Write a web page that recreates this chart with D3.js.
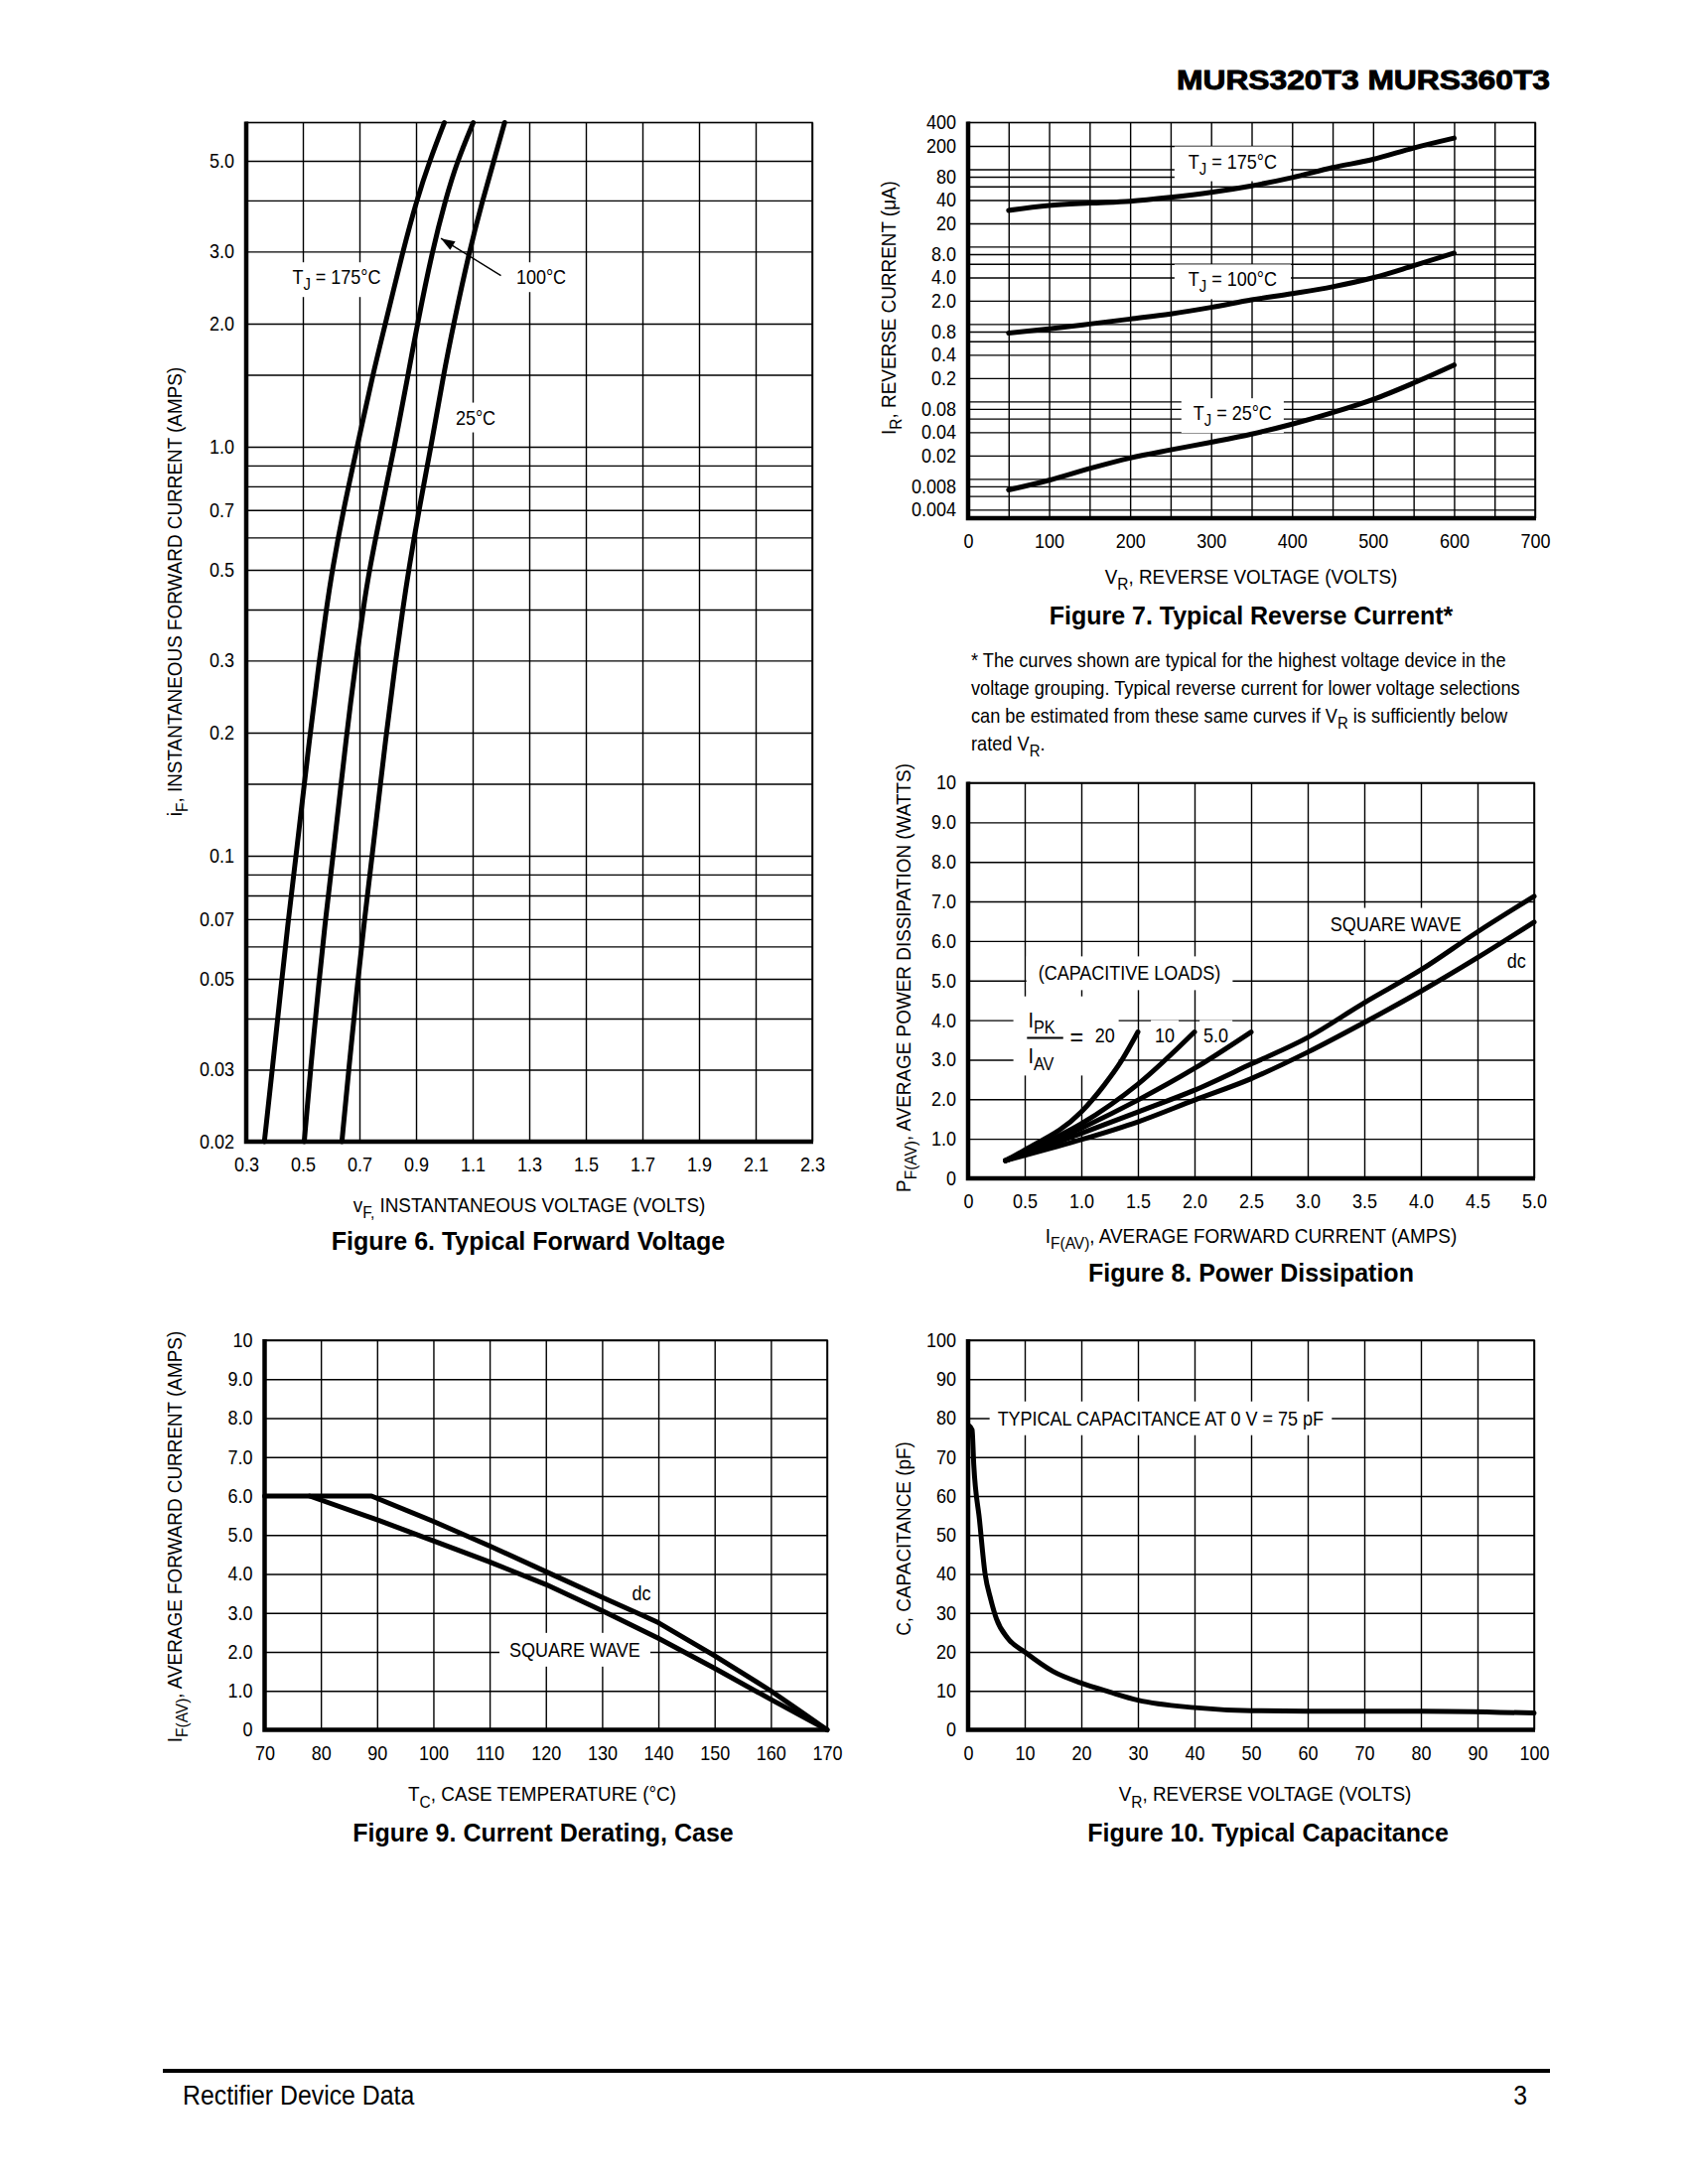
<!DOCTYPE html>
<html>
<head>
<meta charset="utf-8">
<script src="https://cdn.jsdelivr.net/npm/d3@7"></script>
<style>
  body { margin: 0; background: #fff; }
  svg text { font-family: "Liberation Sans", Arial, sans-serif; fill: #000; }
  svg text.bold { font-weight: bold; }
  .ticks text { font-size: 20px; }
</style>
</head>
<body>
<svg id="page" width="1700" height="2200"></svg>
<script>
// ---- Figure 6: typical forward voltage (current on log axis, voltage per temperature)
const fig6Current = [0.02, 0.03, 0.05, 0.07, 0.1, 0.2, 0.3, 0.4, 0.5, 0.7, 1.0, 1.5, 2.0, 3.0, 4.0, 5.0, 6.2];
const fig6V175 = [0.364, 0.392, 0.426, 0.449, 0.476, 0.526, 0.558, 0.583, 0.604, 0.643, 0.692, 0.747, 0.792, 0.853, 0.902, 0.948, 1.0];
const fig6V100 = [0.505, 0.527, 0.558, 0.58, 0.607, 0.655, 0.688, 0.713, 0.735, 0.777, 0.824, 0.872, 0.905, 0.957, 1.003, 1.046, 1.102];
const fig6V25 = [0.638, 0.662, 0.695, 0.718, 0.745, 0.795, 0.828, 0.853, 0.874, 0.91, 0.953, 0.997, 1.033, 1.088, 1.135, 1.175, 1.213];
const fig6XTicks = [0.3, 0.5, 0.7, 0.9, 1.1, 1.3, 1.5, 1.7, 1.9, 2.1, 2.3];
const fig6XLabels = ["0.3", "0.5", "0.7", "0.9", "1.1", "1.3", "1.5", "1.7", "1.9", "2.1", "2.3"];
const fig6YTicks = [5, 3, 2, 1, 0.7, 0.5, 0.3, 0.2, 0.1, 0.07, 0.05, 0.03, 0.02];
const fig6YLabels = ["5.0", "3.0", "2.0", "1.0", "0.7", "0.5", "0.3", "0.2", "0.1", "0.07", "0.05", "0.03", "0.02"];
const fig6YGrid = [5, 4, 3, 2, 1.5, 1, 0.9, 0.8, 0.7, 0.6, 0.5, 0.4, 0.3, 0.2, 0.15, 0.1, 0.09, 0.08, 0.07, 0.06, 0.05, 0.04, 0.03];

// ---- Figure 7: typical reverse current
const fig7Voltage = [50, 100, 150, 200, 250, 300, 350, 400, 450, 500, 550, 600];
const fig7I175 = [29.4, 34, 36.5, 38.6, 43.4, 50.3, 61, 78, 105, 134, 188, 252];
const fig7I100 = [0.764, 0.867, 1.0, 1.16, 1.35, 1.64, 2.05, 2.47, 3.03, 3.96, 5.67, 8.24];
const fig7I25 = [0.0072, 0.0096, 0.0136, 0.0186, 0.0237, 0.0297, 0.0379, 0.0509, 0.0717, 0.106, 0.173, 0.296];
const fig7XTicks = [0, 100, 200, 300, 400, 500, 600, 700];
const fig7YTicks = [400, 200, 80, 40, 20, 8, 4, 2, 0.8, 0.4, 0.2, 0.08, 0.04, 0.02, 0.008, 0.004];
const fig7YLabels = ["400", "200", "80", "40", "20", "8.0", "4.0", "2.0", "0.8", "0.4", "0.2", "0.08", "0.04", "0.02", "0.008", "0.004"];
const fig7YGrid = [200, 100, 80, 60, 40, 20, 10, 8, 6, 4, 2, 1, 0.8, 0.6, 0.4, 0.2, 0.1, 0.08, 0.06, 0.04, 0.02, 0.01, 0.008, 0.006, 0.004];

// ---- Figure 8: power dissipation
const fig8Current = [0.33, 0.5, 1.0, 1.5, 2.0, 2.5, 3.0, 3.5, 4.0, 4.5, 5.0];
const fig8Square = [0.45, 0.61, 1.14, 1.68, 2.23, 2.89, 3.56, 4.44, 5.27, 6.23, 7.13];
const fig8Dc = [0.45, 0.58, 0.98, 1.43, 1.98, 2.52, 3.19, 3.94, 4.73, 5.58, 6.48];
const fig8Cap5Current = [0.33, 0.5, 1.0, 1.5, 2.0, 2.5];
const fig8Cap5 = [0.45, 0.64, 1.27, 1.98, 2.78, 3.7];
const fig8Cap10Current = [0.33, 0.5, 1.0, 1.5, 2.0];
const fig8Cap10 = [0.45, 0.67, 1.38, 2.38, 3.7];
const fig8Cap20Current = [0.33, 0.5, 1.0, 1.2, 1.35, 1.5];
const fig8Cap20 = [0.45, 0.72, 1.68, 2.35, 2.95, 3.7];
const fig8XTicks = [0, 0.5, 1, 1.5, 2, 2.5, 3, 3.5, 4, 4.5, 5];
const fig8XLabels = ["0", "0.5", "1.0", "1.5", "2.0", "2.5", "3.0", "3.5", "4.0", "4.5", "5.0"];
const tenTicks = [0, 1, 2, 3, 4, 5, 6, 7, 8, 9, 10];
const tenLabels = ["0", "1.0", "2.0", "3.0", "4.0", "5.0", "6.0", "7.0", "8.0", "9.0", "10"];

// ---- Figure 9: current derating, case
const fig9DcTemp = [70, 89, 100, 110, 120, 130, 137, 140, 150, 160, 165, 170];
const fig9DcCurrent = [6.0, 6.0, 5.35, 4.72, 4.06, 3.4, 2.95, 2.75, 1.9, 1.0, 0.5, 0];
const fig9SqTemp = [78, 90, 100, 110, 120, 130, 140, 150, 160, 170];
const fig9SqCurrent = [6.0, 5.39, 4.85, 4.31, 3.73, 3.06, 2.35, 1.58, 0.78, 0];
const fig9XTicks = [70, 80, 90, 100, 110, 120, 130, 140, 150, 160, 170];

// ---- Figure 10: typical capacitance
const fig10Voltage = [0.2, 0.7, 1, 2, 3, 4, 5, 7, 10, 15, 20, 25, 30, 40, 50, 60, 80, 100];
const fig10Cap = [78, 77, 68, 54, 40, 33.5, 28.5, 23.5, 20, 15, 12, 9.7, 7.6, 5.7, 4.9, 4.8, 4.8, 4.3];
const fig10Ticks = [0, 10, 20, 30, 40, 50, 60, 70, 80, 90, 100];

const svg = d3.select("#page");
const NARROW = 0.9; // the datasheet uses a condensed sans

// horizontal squeeze around the text anchor
function squeeze(t, s) {
  const tr = t.attr("transform");
  if (tr) t.attr("transform", tr + ` scale(${s},1)`);
  else {
    const x0 = +t.attr("x") || 0;
    t.attr("transform", `translate(${x0 * (1 - s)},0) scale(${s},1)`);
  }
}

// text with optional subscript pieces
function rich(sel, segs, size) {
  let down = false;
  segs.forEach(s => {
    const t = sel.append("tspan").text(s.t);
    if (s.sub) {
      t.attr("font-size", size * 0.82);
      if (!down) { t.attr("dy", size * 0.3); down = true; }
    } else if (down) {
      t.attr("dy", -size * 0.3); down = false;
    }
  });
}

function tag(g, px, py, segs, size, pad) {
  const t = g.append("text").attr("x", px).attr("y", py + size * 0.36).attr("font-size", size);
  rich(t, segs, size);
  if (pad) {
    const b = t.node().getBBox();
    g.insert("rect", () => t.node())
      .attr("x", px + NARROW * (b.x - px) - pad[0]).attr("y", b.y - pad[1])
      .attr("width", NARROW * b.width + 2 * pad[0]).attr("height", b.height + 2 * pad[1])
      .attr("fill", "#fff");
  }
  squeeze(t, NARROW);
  return t;
}

function curve(g, x, y, xs, ys, c) {
  g.append("path")
    .datum(xs.map((v, i) => [v, ys[i]]))
    .attr("d", d3.line().x(d => x(d[0])).y(d => y(d[1])).curve(c || d3.curveMonotoneX))
    .attr("fill", "none").attr("stroke", "#000").attr("stroke-width", 5)
    .attr("stroke-linejoin", "round").attr("stroke-linecap", "round");
}

function drawPanel(p, extras) {
  const g = svg.append("g");
  const x = p.x.range([p.left, p.right]);
  const y = p.y.range([p.bottom, p.top]);
  const w = p.right - p.left, h = p.bottom - p.top;

  g.append("g").attr("class", "grid").attr("transform", `translate(0,${p.bottom})`)
    .call(d3.axisBottom(x).tickValues(p.xGrid).tickSize(-h).tickFormat(""));
  g.append("g").attr("class", "grid").attr("transform", `translate(${p.left},0)`)
    .call(d3.axisLeft(y).tickValues(p.yGrid).tickSize(-w).tickFormat(""));
  g.selectAll(".grid .domain").remove();
  g.selectAll(".grid line").attr("stroke", "#000").attr("stroke-width", 1.4);

  g.append("g").attr("class", "ticks").attr("transform", `translate(0,${p.bottom})`)
    .call(d3.axisBottom(x).tickValues(p.xTicks).tickFormat((d, i) => p.xLabels[i]).tickSize(0).tickPadding(16));
  g.append("g").attr("class", "ticks").attr("transform", `translate(${p.left},0)`)
    .call(d3.axisLeft(y).tickValues(p.yTicks).tickFormat((d, i) => p.yLabels[i]).tickSize(0).tickPadding(12));
  g.selectAll(".ticks .domain").remove();
  g.selectAll(".ticks").attr("font-size", null).attr("font-family", null);
  g.selectAll(".ticks text").each(function () { squeeze(d3.select(this), NARROW); });

  // axis titles
  const xt = g.append("text").attr("x", p.xTitleX).attr("y", p.bottom + p.xTitleDy)
    .attr("text-anchor", "middle").attr("font-size", 21);
  rich(xt, p.xTitle, 21);
  squeeze(xt, NARROW);
  const yt = g.append("text").attr("transform", `translate(${p.yTitleX},${p.yTitleY}) rotate(-90)`)
    .attr("dy", "0.36em").attr("text-anchor", "middle").attr("font-size", 21);
  rich(yt, p.yTitle, 21);
  squeeze(yt, NARROW);
  g.append("text").attr("class", "bold").attr("x", p.captionX).attr("y", p.bottom + p.captionDy)
    .attr("text-anchor", "middle").attr("font-size", 25).text(p.caption);

  if (extras) extras(g, x, y);

  g.append("rect").attr("x", p.left).attr("y", p.top).attr("width", w).attr("height", h)
    .attr("fill", "none").attr("stroke", "#000").attr("stroke-width", 1.6);
  g.append("path").attr("d", `M${p.left},${p.top - 1}V${p.bottom}H${p.right + 1}`)
    .attr("fill", "none").attr("stroke", "#000").attr("stroke-width", 4.5);
}

// header
svg.append("text").attr("class", "bold").attr("x", 1561).attr("y", 90).attr("text-anchor", "end")
  .attr("font-size", 27).attr("stroke", "#000").attr("stroke-width", 0.9)
  .attr("textLength", 376).attr("lengthAdjust", "spacingAndGlyphs")
  .text("MURS320T3 MURS360T3");

// ---------------- Figure 6
drawPanel({
  left: 248, right: 818, top: 123.5, bottom: 1150,
  x: d3.scaleLinear().domain([0.3, 2.3]), y: d3.scaleLog().domain([0.02, 6.2]),
  xGrid: fig6XTicks, yGrid: fig6YGrid,
  xTicks: fig6XTicks, xLabels: fig6XLabels, yTicks: fig6YTicks, yLabels: fig6YLabels,
  xTitle: [{t: "v"}, {t: "F,", sub: true}, {t: " INSTANTANEOUS VOLTAGE (VOLTS)"}], xTitleX: 533, xTitleDy: 71,
  yTitle: [{t: "i"}, {t: "F", sub: true}, {t: ", INSTANTANEOUS FORWARD CURRENT (AMPS)"}], yTitleX: 175, yTitleY: 596,
  caption: "Figure 6. Typical Forward Voltage", captionX: 532, captionDy: 109
}, (g, x, y) => {
  tag(g, x(0.463), y(2.6), [{t: "T"}, {t: "J", sub: true}, {t: " = 175°C"}], 20, [5, 4]);
  tag(g, x(1.254), y(2.6), [{t: "100°C"}], 20, [5, 4]);
  tag(g, x(1.04), y(1.18), [{t: "25°C"}], 20, [5, 4]);
  // arrow pointing at the 100 °C curve
  const ax0 = x(1.2), ay0 = y(2.62), ax1 = x(0.988), ay1 = y(3.23);
  const ang = Math.atan2(ay1 - ay0, ax1 - ax0);
  g.append("line").attr("x1", ax0).attr("y1", ay0).attr("x2", ax1).attr("y2", ay1)
    .attr("stroke", "#000").attr("stroke-width", 1.4);
  const hl = 14, hw = 5;
  const bx = ax1 - hl * Math.cos(ang), by = ay1 - hl * Math.sin(ang);
  g.append("path").attr("d", `M${ax1},${ay1}L${bx + hw * Math.sin(ang)},${by - hw * Math.cos(ang)}L${bx - hw * Math.sin(ang)},${by + hw * Math.cos(ang)}Z`)
    .attr("fill", "#000");
  curve(g, x, y, fig6V175, fig6Current, d3.curveBasis);
  curve(g, x, y, fig6V100, fig6Current, d3.curveBasis);
  curve(g, x, y, fig6V25, fig6Current, d3.curveBasis);
});

// ---------------- Figure 7
drawPanel({
  left: 975, right: 1546, top: 123.5, bottom: 522,
  x: d3.scaleLinear().domain([0, 700]), y: d3.scaleLog().domain([0.0031, 400]),
  xGrid: d3.range(50, 701, 50), yGrid: fig7YGrid,
  xTicks: fig7XTicks, xLabels: fig7XTicks.map(String), yTicks: fig7YTicks, yLabels: fig7YLabels,
  xTitle: [{t: "V"}, {t: "R", sub: true}, {t: ", REVERSE VOLTAGE (VOLTS)"}], xTitleX: 1260, xTitleDy: 66,
  yTitle: [{t: "I"}, {t: "R", sub: true}, {t: ", REVERSE CURRENT (μA)"}], yTitleX: 894, yTitleY: 310,
  caption: "Figure 7. Typical Reverse Current*", captionX: 1260, captionDy: 107
}, (g, x, y) => {
  tag(g, x(272), y(127), [{t: "T"}, {t: "J", sub: true}, {t: " = 175°C"}], 20, [14, 4]);
  tag(g, x(272), y(3.8), [{t: "T"}, {t: "J", sub: true}, {t: " = 100°C"}], 20, [14, 4]);
  tag(g, x(278), y(0.071), [{t: "T"}, {t: "J", sub: true}, {t: " = 25°C"}], 20, [12, 4]);
  curve(g, x, y, fig7Voltage, fig7I175);
  curve(g, x, y, fig7Voltage, fig7I100);
  curve(g, x, y, fig7Voltage, fig7I25);
});

// note under figure 7
const noteLines = [
  [{t: "* The curves shown are typical for the highest voltage device in the"}],
  [{t: "voltage grouping. Typical reverse current for lower voltage selections"}],
  [{t: "can be estimated from these same curves if V"}, {t: "R", sub: true}, {t: " is sufficiently below"}],
  [{t: "rated V"}, {t: "R", sub: true}, {t: "."}]
];
noteLines.forEach((segs, i) => {
  const t = svg.append("text").attr("x", 978).attr("y", 672 + i * 28).attr("font-size", 20);
  rich(t, segs, 20);
  squeeze(t, 0.91);
});

// ---------------- Figure 8
drawPanel({
  left: 975, right: 1545, top: 788.5, bottom: 1187,
  x: d3.scaleLinear().domain([0, 5]), y: d3.scaleLinear().domain([0, 10]),
  xGrid: fig8XTicks, yGrid: tenTicks,
  xTicks: fig8XTicks, xLabels: fig8XLabels, yTicks: tenTicks, yLabels: tenLabels,
  xTitle: [{t: "I"}, {t: "F(AV)", sub: true}, {t: ", AVERAGE FORWARD CURRENT (AMPS)"}], xTitleX: 1260, xTitleDy: 65,
  yTitle: [{t: "P"}, {t: "F(AV)", sub: true}, {t: ", AVERAGE POWER DISSIPATION (WATTS)"}], yTitleX: 909, yTitleY: 985,
  caption: "Figure 8. Power Dissipation", captionX: 1260, captionDy: 104
}, (g, x, y) => {
  tag(g, x(3.2), y(6.44), [{t: "SQUARE WAVE"}], 20, [12, 5]);
  tag(g, x(4.76), y(5.5), [{t: "dc"}], 20, [4, 4]);
  tag(g, x(0.62), y(5.19), [{t: "(CAPACITIVE LOADS)"}], 20, [12, 6]);
  // IPK / IAV fraction block
  g.append("rect").attr("x", x(0.4)).attr("y", y(4.6)).attr("width", x(1.33) - x(0.4))
    .attr("height", y(2.6) - y(4.6)).attr("fill", "#fff");
  tag(g, x(0.53), y(4.02), [{t: "I"}, {t: "PK", sub: true}], 22);
  tag(g, x(0.53), y(3.1), [{t: "I"}, {t: "AV", sub: true}], 22);
  g.append("line").attr("x1", x(0.52)).attr("x2", x(0.84)).attr("y1", y(3.55)).attr("y2", y(3.55))
    .attr("stroke", "#000").attr("stroke-width", 2);
  tag(g, x(0.9), y(3.6), [{t: "="}], 26);
  tag(g, x(1.12), y(3.63), [{t: "20"}], 20);
  tag(g, x(1.65), y(3.63), [{t: "10"}], 20, [4, 4]);
  tag(g, x(2.08), y(3.63), [{t: "5.0"}], 20, [4, 4]);
  curve(g, x, y, fig8Current, fig8Square);
  curve(g, x, y, fig8Current, fig8Dc);
  curve(g, x, y, fig8Cap5Current, fig8Cap5);
  curve(g, x, y, fig8Cap10Current, fig8Cap10);
  curve(g, x, y, fig8Cap20Current, fig8Cap20);
});

// ---------------- Figure 9
drawPanel({
  left: 266.5, right: 833, top: 1350, bottom: 1742.5,
  x: d3.scaleLinear().domain([70, 170]), y: d3.scaleLinear().domain([0, 10]),
  xGrid: fig9XTicks, yGrid: tenTicks,
  xTicks: fig9XTicks, xLabels: fig9XTicks.map(String), yTicks: tenTicks, yLabels: tenLabels,
  xTitle: [{t: "T"}, {t: "C", sub: true}, {t: ", CASE TEMPERATURE (°C)"}], xTitleX: 546, xTitleDy: 72,
  yTitle: [{t: "I"}, {t: "F(AV)", sub: true}, {t: ", AVERAGE FORWARD CURRENT (AMPS)"}], yTitleX: 175, yTitleY: 1548,
  caption: "Figure 9. Current Derating, Case", captionX: 547, captionDy: 112
}, (g, x, y) => {
  tag(g, x(135.3), y(3.5), [{t: "dc"}], 20, [4, 4]);
  tag(g, x(113.5), y(2.06), [{t: "SQUARE WAVE"}], 20, [10, 6]);
  curve(g, x, y, fig9DcTemp, fig9DcCurrent, d3.curveLinear);
  curve(g, x, y, fig9SqTemp, fig9SqCurrent, d3.curveLinear);
});

// ---------------- Figure 10
drawPanel({
  left: 975, right: 1545, top: 1350, bottom: 1742.5,
  x: d3.scaleLinear().domain([0, 100]), y: d3.scaleLinear().domain([0, 100]),
  xGrid: fig10Ticks, yGrid: fig10Ticks,
  xTicks: fig10Ticks, xLabels: fig10Ticks.map(String), yTicks: fig10Ticks, yLabels: fig10Ticks.map(String),
  xTitle: [{t: "V"}, {t: "R", sub: true}, {t: ", REVERSE VOLTAGE (VOLTS)"}], xTitleX: 1274, xTitleDy: 72,
  yTitle: [{t: "C, CAPACITANCE (pF)"}], yTitleX: 909, yTitleY: 1550,
  caption: "Figure 10. Typical Capacitance", captionX: 1277, captionDy: 112
}, (g, x, y) => {
  tag(g, x(5.2), y(80), [{t: "TYPICAL CAPACITANCE AT 0 V = 75 pF"}], 20, [8, 6]);
  curve(g, x, y, fig10Voltage, fig10Cap);
});

// footer
svg.append("line").attr("x1", 164).attr("x2", 1561).attr("y1", 2086).attr("y2", 2086)
  .attr("stroke", "#000").attr("stroke-width", 4);
const foot = svg.append("text").attr("x", 184).attr("y", 2120).attr("font-size", 27).text("Rectifier Device Data");
squeeze(foot, 0.92);
const pageNo = svg.append("text").attr("x", 1538).attr("y", 2120).attr("text-anchor", "end").attr("font-size", 27).text("3");
squeeze(pageNo, 0.92);
</script>
</body>
</html>
